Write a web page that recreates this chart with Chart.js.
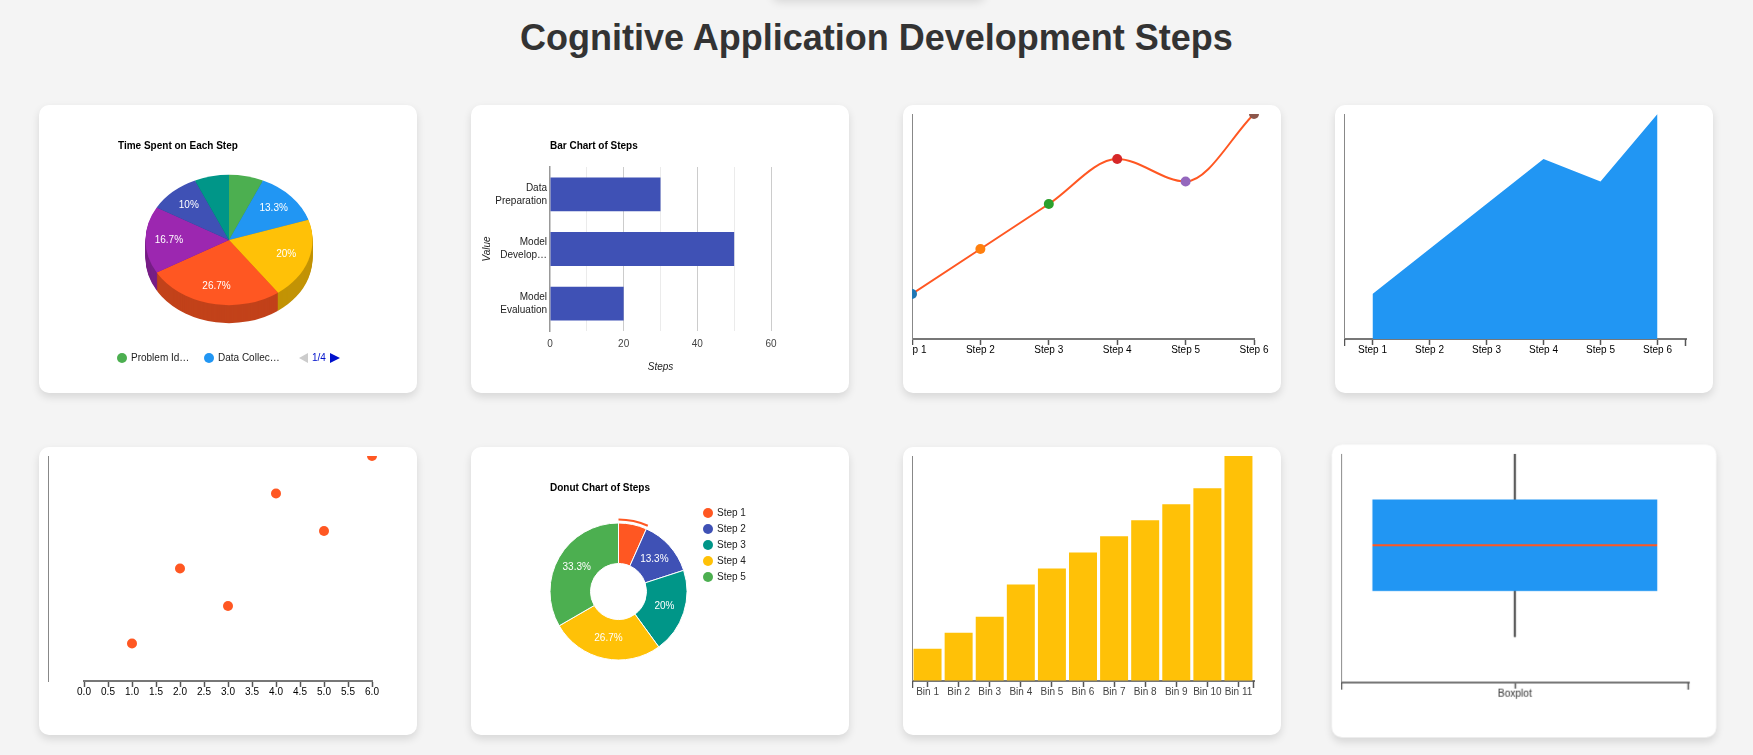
<!DOCTYPE html>
<html>
<head>
<meta charset="utf-8">
<title>Cognitive Application Development Steps</title>
<script src="https://cdn.jsdelivr.net/npm/chart.js@4.4.1/dist/chart.umd.min.js"></script>
<style>
  html, body { margin:0; padding:0; background:#f4f4f4; }
  body { width:1753px; height:755px; overflow:hidden; position:relative; font-family:"Liberation Sans", Arial, sans-serif; }
  h1 { position:absolute; left:0; top:15px; width:1753px; margin:0; text-align:center; font-size:36px; line-height:45px; font-weight:bold; color:#333; }
  .ghost { position:absolute; left:772px; top:-30px; width:213px; height:30px; background:#f4f4f4; box-shadow:0 2px 10px rgba(0,0,0,0.12); border-radius:8px; }
  .card { position:absolute; width:378px; height:288px; background:#fff; border-radius:10px; box-shadow:0 4px 8px rgba(0,0,0,0.12); overflow:hidden; }
  .card canvas { position:absolute; display:block; }
  .card canvas.full { left:0; top:0; }
  .card canvas.inner { left:9px; top:9px; }
  .hover { transform:scale(1.017); }
  .lg { position:absolute; font-size:10px; line-height:12px; color:#222; white-space:nowrap; }
  .dot { position:absolute; width:10px; height:10px; border-radius:50%; }
  .tri-l { position:absolute; width:0; height:0; border-top:5px solid transparent; border-bottom:5px solid transparent; border-right:9px solid #ccc; }
  .tri-r { position:absolute; width:0; height:0; border-top:5px solid transparent; border-bottom:5px solid transparent; border-left:10px solid #0011cc; }
</style>
</head>
<body>
<div class="ghost"></div>
<h1>Cognitive Application Development Steps</h1>

<div class="card" style="left:39px;top:105px"><canvas id="c1" class="full" width="378" height="288"></canvas><div id="pieLegend"></div></div>
<div class="card" style="left:471px;top:105px"><canvas id="c2" class="full" width="378" height="288"></canvas></div>
<div class="card" style="left:903px;top:105px"><canvas id="c3" class="inner" width="360" height="270"></canvas></div>
<div class="card" style="left:1335px;top:105px"><canvas id="c4" class="inner" width="360" height="270"></canvas></div>

<div class="card" style="left:39px;top:447px"><canvas id="c5" class="inner" width="360" height="270"></canvas></div>
<div class="card" style="left:471px;top:447px"><canvas id="c6" class="full" width="378" height="288"></canvas><div id="donutLegend"></div></div>
<div class="card" style="left:903px;top:447px"><canvas id="c7" class="inner" width="360" height="270"></canvas></div>
<div class="card hover" style="left:1335px;top:447px"><canvas id="c8" class="inner" width="360" height="270"></canvas></div>

<script>
// ---------------- DATA ----------------
const pieLabels = ['Problem Identification', 'Data Collection', 'Data Preparation', 'Model Development', 'Model Evaluation', 'Deployment', 'Monitoring'];
const pieValues = [10, 20, 30, 40, 25, 15, 10];
const pieColors = ['#4CAF50', '#2196F3', '#FFC107', '#FF5722', '#9C27B0', '#3F51B5', '#009688'];

const barCategories = ['Data Preparation', 'Model Development', 'Model Evaluation'];
const barValues = [30, 50, 20];

const stepLabels = ['Step 1', 'Step 2', 'Step 3', 'Step 4', 'Step 5', 'Step 6'];
const stepValues = [10, 20, 30, 40, 35, 50];
const stepPointColors = ['#1f77b4', '#ff7f0e', '#2ca02c', '#d62728', '#9467bd', '#8c564b'];

const scatterX = [1, 2, 3, 4, 5, 6];
const scatterY = [10, 30, 20, 50, 40, 60];

const donutLabels = ['Step 1', 'Step 2', 'Step 3', 'Step 4', 'Step 5'];
const donutValues = [10, 20, 30, 40, 50];
const donutColors = ['#FF5722', '#3F51B5', '#009688', '#FFC107', '#4CAF50'];
const donutHighlight = 0;

const binLabels = ['Bin 1', 'Bin 2', 'Bin 3', 'Bin 4', 'Bin 5', 'Bin 6', 'Bin 7', 'Bin 8', 'Bin 9', 'Bin 10', 'Bin 11'];
const binValues = [2, 3, 4, 6, 7, 8, 9, 10, 11, 12, 14];

const boxLabels = ['Boxplot'];
const boxStats = [10, 20, 30, 40, 50]; // min, q1, median, q3, max

// ---------------- HELPERS ----------------
const FONT = '"Liberation Sans", Arial, sans-serif';
Chart.defaults.font.family = FONT;
Chart.defaults.font.size = 10;

const mctx = document.createElement('canvas').getContext('2d');
function textW(s) { mctx.font = '10px ' + FONT; return mctx.measureText(s).width; }
function fitText(s, max) {
  if (textW(s) <= max) return s;
  let t = s;
  while (t.length > 1 && textW(t + '\u2026') > max) t = t.slice(0, -1);
  return t + '\u2026';
}
function shade(hex, f) {
  const n = parseInt(hex.slice(1), 16);
  return 'rgb(' + Math.round(((n >> 16) & 255) * f) + ',' + Math.round(((n >> 8) & 255) * f) + ',' + Math.round((n & 255) * f) + ')';
}
function pctText(v, total) { return (+(v / total * 100).toFixed(1)) + '%'; }

const base = { responsive: false, animation: false, events: [] };
const noPlug = { legend: { display: false }, tooltip: { enabled: false } };

function gTitle(text) {
  return { display: true, text: text, align: 'start', fullSize: false, color: '#000',
           font: { family: FONT, size: 10, weight: 'bold' }, padding: { top: 35, bottom: 10 } };
}

function d3X(extra, labelColor) {
  return Object.assign({
    grid: { display: true, drawOnChartArea: false, drawTicks: true, tickLength: 6, tickColor: '#555', tickWidth: 1.5, offset: false },
    border: { display: true, color: '#777', width: 2 },
    ticks: { color: labelColor || '#000', font: { family: FONT, size: 10, lineHeight: 1 }, padding: 0, maxRotation: 0, autoSkip: false },
    afterFit: s => { s.height = 45; s.paddingLeft = 0; s.paddingRight = 0; }
  }, extra);
}
function d3Y(min, max, extra) {
  return Object.assign({
    min: min, max: max, display: true,
    ticks: { display: false },
    grid: { display: true, drawOnChartArea: false, drawTicks: false },
    border: { display: true, color: '#888', width: 1 },
    afterFit: s => { s.width = 0; s.paddingTop = 0; s.paddingBottom = 0; }
  }, extra);
}
function d3Layout(left, right) {
  return { autoPadding: false, padding: { left: left, right: right, top: 0, bottom: 0 } };
}

const outerTicks = {
  id: 'outerTicks',
  afterDraw(chart) {
    const ctx = chart.ctx, a = chart.chartArea;
    ctx.save();
    ctx.strokeStyle = '#555'; ctx.lineWidth = 1.5;
    ctx.beginPath();
    ctx.moveTo(a.left + 0.5, a.bottom); ctx.lineTo(a.left + 0.5, a.bottom + 7);
    ctx.moveTo(a.right - 0.5, a.bottom); ctx.lineTo(a.right - 0.5, a.bottom + 7);
    ctx.stroke();
    ctx.restore();
  }
};

// ---------------- 1: 3D PIE ----------------
const PIE_TILT = 0.78, PIE_DEPTH = 18;
const pie3d = {
  id: 'pie3d',
  beforeDatasetsDraw(chart) {
    const ctx = chart.ctx;
    const arcs = chart.getDatasetMeta(0).data;
    const sector = (a, dy) => {
      ctx.save();
      ctx.translate(a.x, a.y + dy);
      ctx.scale(1, PIE_TILT);
      ctx.beginPath();
      ctx.moveTo(0, 0);
      ctx.arc(0, 0, a.outerRadius, a.startAngle, a.endAngle);
      ctx.closePath();
      ctx.restore();
    };
    for (let d = PIE_DEPTH; d >= 1; d--) {
      arcs.forEach((a, i) => { sector(a, d); ctx.fillStyle = shade(pieColors[i], 0.76); ctx.fill(); });
    }
    arcs.forEach((a, i) => { sector(a, 0); ctx.fillStyle = pieColors[i]; ctx.fill(); });
    return false;
  },
  afterDraw(chart) {
    const ctx = chart.ctx;
    const arcs = chart.getDatasetMeta(0).data;
    const total = pieValues.reduce((s, v) => s + v, 0);
    ctx.save();
    ctx.fillStyle = '#fff';
    ctx.font = '10px ' + FONT;
    ctx.textAlign = 'center'; ctx.textBaseline = 'middle';
    arcs.forEach((a, i) => {
      if (pieValues[i] / total < 0.08) return;
      const mid = (a.startAngle + a.endAngle) / 2;
      const r = a.outerRadius * 0.72;
      ctx.fillText(pctText(pieValues[i], total), a.x + r * Math.cos(mid), a.y + r * Math.sin(mid) * PIE_TILT);
    });
    ctx.restore();
  }
};
new Chart(document.getElementById('c1'), {
  type: 'pie',
  data: { labels: pieLabels, datasets: [{ data: pieValues, backgroundColor: pieColors, borderWidth: 0 }] },
  options: Object.assign({}, base, {
    radius: 83.5,
    layout: { padding: { left: 79, right: 77, top: 0, bottom: 75 } },
    plugins: Object.assign({}, noPlug, { title: gTitle('Time Spent on Each Step') })
  }),
  plugins: [pie3d]
});
(function () {
  const el = document.getElementById('pieLegend');
  const perPage = 2, pages = Math.ceil(pieLabels.length / perPage);
  const slotX = [78, 165];
  let html = '';
  pieLabels.slice(0, perPage).forEach((lab, i) => {
    html += '<div class="dot" style="left:' + slotX[i] + 'px;top:248px;background:' + pieColors[i] + '"></div>';
    html += '<div class="lg" style="left:' + (slotX[i] + 14) + 'px;top:247px">' + fitText(lab, 63) + '</div>';
  });
  html += '<div class="tri-l" style="left:260px;top:248px"></div>';
  html += '<div class="lg" style="left:273px;top:247px;color:#0011cc">1/' + pages + '</div>';
  html += '<div class="tri-r" style="left:291px;top:248px"></div>';
  el.innerHTML = html;
})();

// ---------------- 2: HORIZONTAL BAR ----------------
new Chart(document.getElementById('c2'), {
  type: 'bar',
  data: { labels: barCategories, datasets: [{ data: barValues, backgroundColor: '#3F51B5', categoryPercentage: 1, barPercentage: 0.62 }] },
  options: Object.assign({}, base, {
    indexAxis: 'y',
    layout: { padding: { left: 0, right: 78, top: 0, bottom: 0 } },
    plugins: Object.assign({}, noPlug, { title: Object.assign(gTitle('Bar Chart of Steps'), { padding: { top: 35, bottom: 15 } }) }),
    scales: {
      x: {
        min: 0, max: 60,
        ticks: { stepSize: 10, callback: v => (v % 20 === 0 ? v : ''), color: '#444', font: { family: FONT, size: 10 }, padding: 7, autoSkip: false, maxRotation: 0 },
        grid: { drawTicks: false, color: c => (c.tick && c.tick.value === 0 ? 'rgba(0,0,0,0)' : (c.tick && c.tick.value % 20 === 0 ? '#ccc' : '#ebebeb')) },
        border: { display: false },
        title: { display: true, text: 'Steps', color: '#222', font: { family: FONT, size: 10, style: 'italic' }, padding: { top: 0, bottom: 20 } },
        afterFit: s => { s.height = 62; }
      },
      y: {
        ticks: {
          callback: function (v) { return this.getLabelForValue(v).split(' ').map(w => fitText(w, 55)); },
          color: '#222', font: { family: FONT, size: 10, lineHeight: 1.3 }, padding: 3
        },
        grid: { display: false, drawTicks: false },
        border: { display: true, color: '#999', width: 1.5 },
        title: { display: true, text: 'Value', color: '#222', font: { family: FONT, size: 10, style: 'italic' }, padding: { top: 10, bottom: 0 } },
        afterFit: s => { s.width = 79; }
      }
    }
  })
});

// ---------------- 3: CURVED LINE ----------------
new Chart(document.getElementById('c3'), {
  type: 'line',
  data: { labels: stepLabels, datasets: [{
    data: stepValues, borderColor: '#FF5722', borderWidth: 2, cubicInterpolationMode: 'monotone',
    pointBackgroundColor: stepPointColors, pointBorderWidth: 0, pointRadius: 5, clip: false, fill: false
  }] },
  options: Object.assign({}, base, {
    layout: d3Layout(0, 18),
    plugins: noPlug,
    scales: { x: d3X({ offset: false }), y: d3Y(0, 50) }
  })
});

// ---------------- 4: AREA ----------------
new Chart(document.getElementById('c4'), {
  type: 'line',
  data: { labels: stepLabels, datasets: [{
    data: stepValues, fill: 'origin', backgroundColor: '#2196F3', borderWidth: 0, pointRadius: 0, tension: 0
  }] },
  options: Object.assign({}, base, {
    layout: d3Layout(0, 18),
    plugins: noPlug,
    scales: { x: d3X({ offset: true }), y: d3Y(0, 50) }
  }),
  plugins: [outerTicks]
});

// ---------------- 5: SCATTER ----------------
new Chart(document.getElementById('c5'), {
  type: 'scatter',
  data: { datasets: [{
    data: scatterX.map((x, i) => ({ x: x, y: scatterY[i] })),
    backgroundColor: '#FF5722', pointRadius: 5, pointBorderWidth: 0, clip: false
  }] },
  options: Object.assign({}, base, {
    layout: d3Layout(36, 36),
    plugins: noPlug,
    scales: {
      x: Object.assign(d3X({ type: 'linear', min: 0, max: 6 }), {
        ticks: { stepSize: 0.5, callback: v => v.toFixed(1), color: '#000', font: { family: FONT, size: 10, lineHeight: 1 }, padding: 0, maxRotation: 0, autoSkip: false }
      }),
      y: d3Y(0, 60, { position: { x: -0.75 } })
    }
  })
});

// ---------------- 6: DONUT ----------------
const donutLabelPlugin = {
  id: 'donutLabels',
  afterDatasetsDraw(chart) {
    const ctx = chart.ctx;
    const arcs = chart.getDatasetMeta(2).data;
    const total = donutValues.reduce((s, v) => s + v, 0);
    ctx.save();
    ctx.fillStyle = '#fff';
    ctx.font = '10px ' + FONT;
    ctx.textAlign = 'center'; ctx.textBaseline = 'middle';
    arcs.forEach((a, i) => {
      if (donutValues[i] / total < 0.1) return;
      const p = a.tooltipPosition();
      ctx.fillText(pctText(donutValues[i], total), p.x, p.y);
    });
    ctx.restore();
  }
};
new Chart(document.getElementById('c6'), {
  type: 'doughnut',
  data: { labels: donutLabels, datasets: [
    { data: donutValues, backgroundColor: donutValues.map((v, i) => (i === donutHighlight ? donutColors[i] : 'rgba(0,0,0,0)')), borderWidth: 0, weight: 2, clip: false },
    { data: donutValues, backgroundColor: 'rgba(0,0,0,0)', borderWidth: 0, weight: 2.5, clip: false },
    { data: donutValues, backgroundColor: donutColors, borderColor: '#fff', borderWidth: 1, weight: 40.5, clip: false }
  ] },
  options: Object.assign({}, base, {
    radius: 73, cutout: '38.36%',
    layout: { padding: { left: 79, right: 162, top: 0, bottom: 56 } },
    plugins: Object.assign({}, noPlug, { title: gTitle('Donut Chart of Steps') })
  }),
  plugins: [donutLabelPlugin]
});
(function () {
  const el = document.getElementById('donutLegend');
  let html = '';
  donutLabels.forEach((lab, i) => {
    html += '<div class="dot" style="left:232px;top:' + (61 + 16 * i) + 'px;background:' + donutColors[i] + '"></div>';
    html += '<div class="lg" style="left:246px;top:' + (60 + 16 * i) + 'px">' + lab + '</div>';
  });
  el.innerHTML = html;
})();

// ---------------- 7: HISTOGRAM ----------------
new Chart(document.getElementById('c7'), {
  type: 'bar',
  data: { labels: binLabels, datasets: [{ data: binValues, backgroundColor: '#FFC107', borderWidth: 0, barPercentage: 0.9, categoryPercentage: 1 }] },
  options: Object.assign({}, base, {
    layout: d3Layout(0, 18),
    plugins: noPlug,
    scales: { x: d3X({ offset: true }, '#444'), y: d3Y(0, 14) }
  }),
  plugins: [outerTicks]
});

// ---------------- 8: BOXPLOT ----------------
const [bMin, bQ1, bMed, bQ3, bMax] = boxStats;
new Chart(document.getElementById('c8'), {
  type: 'bar',
  data: { labels: boxLabels, datasets: [
    { data: [[bMin, bMax]], backgroundColor: '#555', barThickness: 1.5, grouped: false, order: 3 },
    { data: [[bQ1, bMed]], backgroundColor: '#2196F3', borderColor: '#FF5722', borderWidth: { top: 1, right: 0, bottom: 0, left: 0 }, borderSkipped: false, grouped: false, barPercentage: 0.82, categoryPercentage: 1, order: 1 },
    { data: [[bMed, bQ3]], backgroundColor: '#2196F3', borderColor: '#FF5722', borderWidth: { top: 0, right: 0, bottom: 1, left: 0 }, borderSkipped: false, grouped: false, barPercentage: 0.82, categoryPercentage: 1, order: 1 }
  ] },
  options: Object.assign({}, base, {
    layout: d3Layout(0, 18),
    plugins: noPlug,
    scales: { x: d3X({ offset: true }, '#333'), y: d3Y(0, 50) }
  }),
  plugins: [outerTicks]
});
</script>
</body>
</html>
